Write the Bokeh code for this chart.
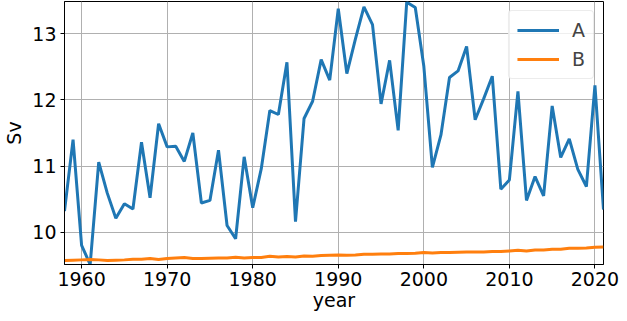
from bokeh.plotting import figure
from bokeh.models import Range1d, FixedTicker, Legend, LegendItem
from bokeh.embed import file_html
from bokeh.resources import INLINE

years = list(range(1958, 2022))
series_a = [10.32, 11.40, 9.80, 9.51, 11.06, 10.59, 10.21, 10.43, 10.35, 11.36,
            10.52, 11.64, 11.29, 11.30, 11.07, 11.50, 10.44, 10.48, 11.24, 10.10,
            9.90, 11.14, 10.37, 10.96, 11.84, 11.78, 12.57, 10.16, 11.72, 11.98,
            12.61, 12.30, 13.38, 12.40, 12.92, 13.41, 13.14, 11.94, 12.60, 11.54,
            13.48, 13.40, 12.51, 10.98, 11.47, 12.34, 12.44, 12.81, 11.70, 12.02,
            12.36, 10.65, 10.79, 12.13, 10.48, 10.84, 10.55, 11.91, 11.13, 11.41,
            10.95, 10.69, 12.22, 10.34]
series_b = [9.570, 9.575, 9.580, 9.585, 9.580, 9.570, 9.575, 9.580, 9.590, 9.590,
            9.600, 9.585, 9.600, 9.610, 9.615, 9.600, 9.600, 9.605, 9.610, 9.610,
            9.620, 9.610, 9.615, 9.615, 9.635, 9.625, 9.630, 9.625, 9.640, 9.635,
            9.645, 9.650, 9.655, 9.650, 9.655, 9.665, 9.665, 9.670, 9.670, 9.675,
            9.675, 9.680, 9.690, 9.685, 9.690, 9.690, 9.695, 9.700, 9.700, 9.700,
            9.705, 9.705, 9.715, 9.725, 9.715, 9.730, 9.730, 9.740, 9.740, 9.755,
            9.755, 9.760, 9.770, 9.775]
x_ticks = [1960, 1970, 1980, 1990, 2000, 2010, 2020]
y_ticks = [10, 11, 12, 13]

FONT = "DejaVu Sans"
FS = "19px"

p = figure(width=619, height=313, output_backend="svg", toolbar_location=None,
           x_range=Range1d(min(years), max(years)),
           y_range=Range1d(min(series_a), max(series_a) + 0.01),
           min_border_left=40, min_border_right=16, min_border_top=1, min_border_bottom=0)

la = p.line(years, series_a, line_color="#1f77b4", line_width=3)
lb = p.line(years, series_b, line_color="#ff7f0e", line_width=3)

p.outline_line_color = "black"
p.outline_line_width = 1
p.outline_line_alpha = 1

for ax in (p.xaxis[0], p.yaxis[0]):
    ax.major_label_text_font = FONT
    ax.major_label_text_font_size = FS
    ax.major_label_text_color = "black"
    ax.axis_label_text_font = FONT
    ax.axis_label_text_font_size = FS
    ax.axis_label_text_font_style = "normal"
    ax.axis_label_text_color = "black"
    ax.axis_line_color = "black"
    ax.major_tick_line_color = "black"
    ax.major_tick_out = 4
    ax.major_tick_in = 0
    ax.minor_tick_line_color = None

p.xaxis.ticker = FixedTicker(ticks=x_ticks)
p.yaxis.ticker = FixedTicker(ticks=y_ticks)
p.xaxis.axis_label = "year"
p.yaxis.axis_label = "Sv"
p.xaxis.axis_label_standoff = 0
p.yaxis.axis_label_standoff = 4
p.xaxis.major_label_standoff = 3
p.yaxis.major_label_standoff = 4

p.xgrid.ticker = FixedTicker(ticks=x_ticks)
p.ygrid.ticker = FixedTicker(ticks=y_ticks)
p.grid.grid_line_color = "#b0b0b0"
p.grid.grid_line_width = 1

legend = Legend(items=[LegendItem(label="A", renderers=[la]),
                       LegendItem(label="B", renderers=[lb])],
                location="top_right")
legend.label_text_font = FONT
legend.label_text_font_size = FS
legend.border_line_color = "#d9d9d9"
legend.border_radius = 4
legend.background_fill_alpha = 0.8
legend.glyph_width = 42
legend.label_width = 13
legend.spacing = 7
legend.padding = 8
legend.margin = 9
legend.label_standoff = 13
p.add_layout(legend)

open("out.html", "w").write(file_html(p, INLINE))
